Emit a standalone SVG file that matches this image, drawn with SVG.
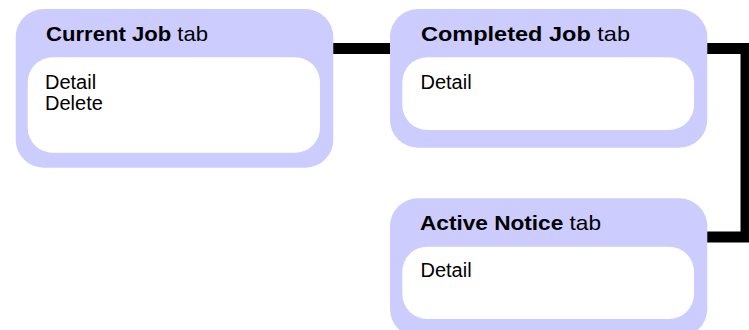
<svg xmlns="http://www.w3.org/2000/svg" width="749" height="330" viewBox="0 0 749 330">
<style>
.outer{fill:#CCCCFF}
.inner{fill:#FFFFFF}
text{font-family:"Liberation Sans",Arial,sans-serif;font-size:20px;fill:#000}
.t{font-size:21px}
.b{font-weight:bold}
.conn{fill:none;stroke:#000;stroke-width:11}
</style>
<rect width="749" height="330" fill="#FFFFFF"/>
<g id="connectors">
<line class="conn" x1="333" y1="48.5" x2="390" y2="48.5"/>
<polyline class="conn" points="707,48.5 746,48.5 746,237 707,237"/>
</g>
<g id="current-job">
<rect class="outer" x="15.7" y="9" width="317.6" height="158.7" rx="28" ry="28"/>
<rect class="inner" x="27.7" y="57.3" width="292.3" height="95.4" rx="25" ry="25"/>
<text class="t" x="46" y="41" textLength="162" lengthAdjust="spacingAndGlyphs"><tspan class="b">Current Job</tspan> tab</text>
<text x="45" y="89">Detail</text>
<text x="45" y="110">Delete</text>
</g>
<g id="completed-job">
<rect class="outer" x="390" y="9" width="317.3" height="138.7" rx="28" ry="28"/>
<rect class="inner" x="402.3" y="57.3" width="291.7" height="72.7" rx="25" ry="25"/>
<text class="t" x="421" y="41" textLength="209" lengthAdjust="spacingAndGlyphs"><tspan class="b">Completed Job</tspan> tab</text>
<text x="420.5" y="89">Detail</text>
</g>
<g id="active-notice">
<rect class="outer" x="390" y="198.3" width="317.3" height="138.7" rx="28" ry="28"/>
<rect class="inner" x="402.3" y="246.7" width="291.7" height="72.3" rx="25" ry="25"/>
<text class="t" x="420" y="230" textLength="181" lengthAdjust="spacingAndGlyphs"><tspan class="b">Active Notice</tspan> tab</text>
<text x="420.5" y="277">Detail</text>
</g>
</svg>
